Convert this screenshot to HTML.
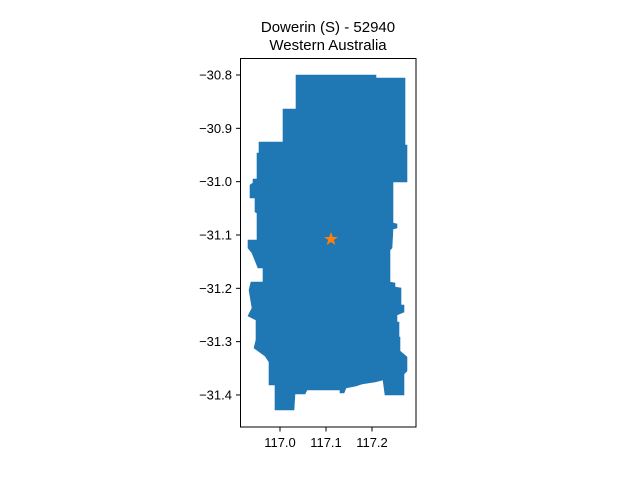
<!DOCTYPE html>
<html><head><meta charset="utf-8"><style>
body{margin:0;background:#fff}
svg text{font-family:"Liberation Sans","DejaVu Sans",sans-serif;fill:#000}
</style></head><body>
<svg width="640" height="480" viewBox="0 0 640 480">
<rect width="640" height="480" fill="#fff"/>
<text x="328" y="32" font-size="15" text-anchor="middle">Dowerin (S) - 52940</text>
<text x="328" y="50" font-size="15" text-anchor="middle">Western Australia</text>
<path fill="#1f77b4" stroke="#1f77b4" stroke-width="0.6" d="
M296,75 L376,75 L376,78 L405,78 L405,145 L407,145 L407,182 L393,182 L393,223 L397,224 L397,228 L393,229 L392,248 L390,250 L390,282 L395,283 L395,287 L401,288 L401,305 L404,305 L404,312 L397,315 L397,322 L399,322 L399,337 L400,337 L400,351 L407,357 L407,371 L404,374 L404,395 L385,395 L383,380 L375,382 L362,384 L356,386 L346,388 L344,393 L340,393 L340,390 L307,390 L305,394 L295,394 L294,410 L275,410 L275,385 L269,385 L269,362 L265,356 L254,348 L256,340 L256,320 L248,316 L252,308 L249,290 L251,282 L263,282 L263,268 L258,268 L252,253 L248,248 L248,240 L257,240 L257,213 L255,212 L255,198 L250,198 L250,185 L253,183 L253,179 L257,179 L257,153 L259,153 L259,142 L283,142 L283,109 L296,109 Z"/>
<polygon fill="#ff7f0e" points="331,232 332.8,237 338,237 333.8,240 335.4,245 331,242 326.6,245 328.2,240 324,237 329.2,237"/>
<rect x="240.5" y="58.5" width="175.5" height="368.5" fill="none" stroke="#000" stroke-width="1"/>
<g id="yt"></g>
<g id="xt"></g>
</svg>
<script>
const yTicks=[-30.8,-30.9,-31.0,-31.1,-31.2,-31.3,-31.4];
const yLabels=["\u221230.8","\u221230.9","\u221231.0","\u221231.1","\u221231.2","\u221231.3","\u221231.4"];
const xTicks=[117.0,117.1,117.2];
const xLabels=["117.0","117.1","117.2"];
const ns="http://www.w3.org/2000/svg";
function ys(v){return 75+(-30.8-v)*533.3;}
function xs(v){return 280+(v-117.0)*460;}
const yg=document.getElementById('yt'),xg=document.getElementById('xt');
yTicks.forEach((v,i)=>{const y=ys(v);
const l=document.createElementNS(ns,'line');l.setAttribute('x1',236);l.setAttribute('x2',240.5);l.setAttribute('y1',y);l.setAttribute('y2',y);l.setAttribute('stroke','#000');


yg.appendChild(l);
const t=document.createElementNS(ns,'text');t.setAttribute('x',232);t.setAttribute('y',y+4.5);t.setAttribute('font-size','13');t.setAttribute('text-anchor','end');t.textContent=yLabels[i];


yg.appendChild(t);});
xTicks.forEach((v,i)=>{const x=xs(v);
const l=document.createElementNS(ns,'line');l.setAttribute('x1',x);l.setAttribute('x2',x);l.setAttribute('y1',427);l.setAttribute('y2',431.5);l.setAttribute('stroke','#000');


xg.appendChild(l);
const t=document.createElementNS(ns,'text');t.setAttribute('x',x);t.setAttribute('y',447);t.setAttribute('font-size','13');t.setAttribute('text-anchor','middle');t.textContent=xLabels[i];


xg.appendChild(t);});
</script>
</body></html>
